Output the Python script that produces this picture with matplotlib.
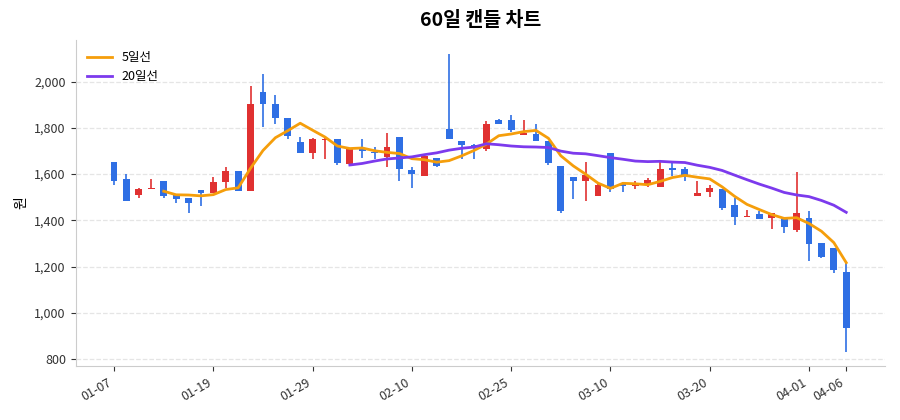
import matplotlib
matplotlib.use("Agg")
import matplotlib.pyplot as plt
import numpy as np
import pandas as pd
from matplotlib.ticker import FuncFormatter

plt.rcParams['font.family'] = ['Noto Sans CJK KR', 'DejaVu Sans']

opens = [1651,1577,1511,1536,1570,1511,1496,1533,1518,1566,1614,1529,1956,1904,1843,1737,1690,1747,1753,1642,
         1709,1696,1674,1762,1620,1592,1671,1795,1744,1725,1709,1833,1833,1770,1772,1743,1636,1589,1571,1505,
         1690,1559,1549,1553,1543,1628,1624,1505,1524,1534,1466,1415,1427,1409,1408,1357,1412,1301,1279,1177]
closes = [1569,1482,1536,1540,1504,1492,1477,1518,1566,1614,1529,1901,1901,1842,1766,1690,1750,1753,1648,1712,
          1702,1690,1718,1623,1601,1680,1636,1752,1725,1718,1817,1818,1789,1776,1745,1647,1440,1571,1596,1552,
          1534,1549,1561,1575,1624,1618,1596,1520,1539,1452,1415,1421,1408,1430,1370,1430,1296,1241,1184,937]
highs = [1651,1599,1540,1577,1570,1511,1496,1533,1587,1631,1614,1981,2032,1942,1843,1762,1756,1756,1753,1712,
         1750,1718,1776,1762,1631,1684,1671,2119,1744,1731,1829,1840,1855,1833,1815,1743,1636,1589,1651,1561,
         1690,1568,1571,1585,1655,1646,1633,1571,1552,1534,1498,1447,1440,1430,1408,1609,1440,1301,1279,1218]
lows = [1555,1482,1496,1536,1496,1474,1434,1463,1518,1540,1529,1529,1805,1817,1752,1690,1664,1667,1638,1642,
        1668,1664,1631,1572,1540,1592,1630,1752,1667,1666,1702,1818,1782,1770,1745,1638,1430,1492,1485,1505,
        1522,1524,1534,1543,1543,1592,1571,1505,1502,1447,1382,1415,1408,1363,1345,1350,1223,1236,1172,830]
tick_pos = [0, 8, 16, 24, 32, 40, 48, 56, 59]
tick_labels = ['01-07', '01-19', '01-29', '02-10', '02-25', '03-10', '03-20', '04-01', '04-06']

UP, DOWN = '#e03131', '#2f6fe4'
x = np.arange(len(closes))
fig, ax = plt.subplots(figsize=(9, 4.2), dpi=100)
fig.subplots_adjust(left=0.084, right=0.983, top=0.905, bottom=0.128)

for i in x:
    o, c, h, l = opens[i], closes[i], highs[i], lows[i]
    col = UP if c >= o else DOWN
    ax.vlines(i, l, h, color=col, lw=1.2, zorder=2)
    ax.bar(i, max(abs(c - o), 4), bottom=min(o, c), width=0.55, color=col, zorder=3)

s = pd.Series(closes, dtype=float)
ax.plot(x, s.rolling(5).mean(), color='#f59e0b', lw=2, label='5일선', zorder=4)
ax.plot(x, s.rolling(20).mean(), color='#7c3aed', lw=2, label='20일선', zorder=4)

ax.set_xlim(-3.1, 62.1)
ax.set_ylim(770, 2180)
ax.set_yticks(range(800, 2001, 200))
ax.yaxis.set_major_formatter(FuncFormatter(lambda v, p: f'{int(v):,}'))
ax.set_xticks(tick_pos)
ax.set_xticklabels(tick_labels, rotation=30, ha='right')
ax.tick_params(labelsize=9, colors='#333333')
ax.grid(axis='y', ls='--', color='#e5e5e5', lw=0.9)
ax.set_axisbelow(True)
for sp in ['top', 'right']:
    ax.spines[sp].set_visible(False)
for sp in ['left', 'bottom']:
    ax.spines[sp].set_color('#cccccc')
ax.set_ylabel('원', fontsize=10)
ax.set_title('60일 캔들 차트', fontsize=14, fontweight='bold', pad=10)
ax.legend(loc='upper left', frameon=False, fontsize=9)
fig.savefig('out.png')
